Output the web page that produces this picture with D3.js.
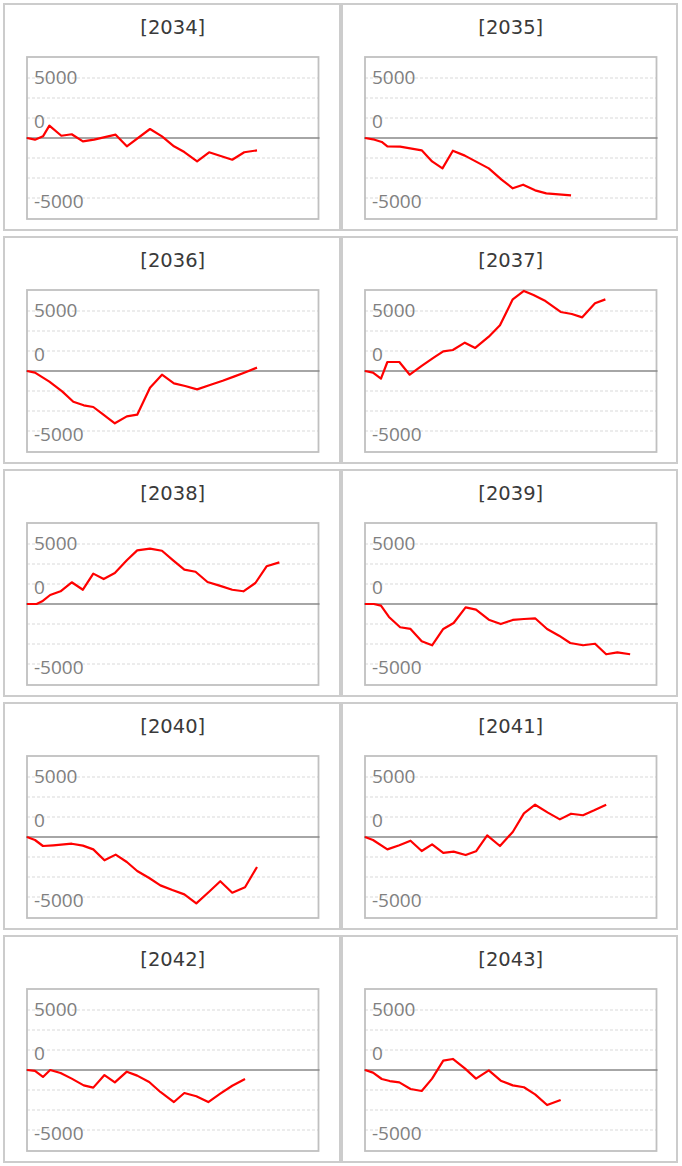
<!DOCTYPE html>
<html><head><meta charset="utf-8">
<script src="https://cdn.jsdelivr.net/npm/d3@7"></script>
<style>html,body{margin:0;padding:0;background:#fff}</style>
</head><body>
<svg id="chart" width="682" height="1166"></svg>
<script>
// ---- data: [day of period, cumulative value] ----
const panelTitles = ["[2034]","[2035]","[2036]","[2037]","[2038]","[2039]","[2040]","[2041]","[2042]","[2043]"];
const tickValues = [5000, 0, -5000];
const tickLabels = ["5000", "0", "-5000"];
const gridValues = [5000, 10000/3, 5000/3, -5000/3, -10000/3, -5000];
const xDomain = [0, 365];
const yDomain = [-6750, 6750];

const s2034 = [[0,0],[10,-140],[20,140],[28,1030],[43,190],[56,310],[70,-280],[84,-140],[111,280],[125,-690],[154,750],[169,140],[184,-690],[197,-1170],[213,-1950],[228,-1190],[257,-1810],[272,-1190],[288,-1030]];
const s2035 = [[0,0],[12,-140],[21,-330],[28,-690],[44,-720],[71,-1030],[84,-1950],[97,-2530],[110,-1060],[125,-1470],[155,-2530],[171,-3470],[185,-4190],[198,-3890],[213,-4360],[227,-4610],[258,-4780]];
const s2036 = [[0,0],[10,-140],[28,-890],[44,-1700],[58,-2560],[71,-2860],[83,-3000],[94,-3560],[110,-4360],[125,-3780],[138,-3640],[154,-1390],[169,-310],[184,-1030],[198,-1250],[213,-1530],[230,-1140],[245,-810],[259,-470],[272,-140],[288,280]];
const s2037 = [[0,0],[10,-140],[20,-640],[28,750],[43,750],[56,-310],[71,420],[86,1110],[98,1640],[110,1750],[125,2360],[138,1920],[155,2860],[169,3810],[185,5970],[199,6670],[211,6330],[226,5830],[245,4920],[259,4750],[272,4470],[288,5640],[301,5970]];
const s2038 = [[0,0],[12,0],[19,220],[29,750],[42,1060],[56,1810],[70,1190],[83,2530],[96,2080],[110,2580],[125,3640],[138,4470],[154,4610],[169,4440],[183,3640],[197,2860],[211,2690],[226,1830],[241,1530],[257,1190],[271,1060],[286,1750],[300,3140],[316,3470]];
const s2039 = [[0,0],[11,0],[20,-140],[30,-1080],[44,-1940],[57,-2080],[71,-3110],[84,-3440],[98,-2080],[111,-1580],[126,-280],[139,-470],[155,-1310],[170,-1670],[185,-1330],[199,-1250],[213,-1190],[228,-2080],[243,-2640],[257,-3250],[273,-3440],[288,-3310],[302,-4190],[316,-4030],[332,-4190]];
const s2040 = [[0,0],[10,-250],[20,-750],[33,-690],[56,-560],[70,-720],[83,-1030],[97,-1940],[111,-1470],[125,-2080],[138,-2830],[153,-3420],[167,-4030],[182,-4420],[197,-4780],[212,-5530],[228,-4560],[242,-3690],[257,-4640],[273,-4190],[288,-2500]];
const s2041 = [[0,0],[10,-250],[28,-1030],[43,-690],[57,-310],[71,-1170],[84,-610],[98,-1330],[111,-1220],[126,-1500],[139,-1190],[153,140],[169,-750],[185,420],[199,1970],[213,2690],[229,2030],[244,1470],[258,1940],[273,1810],[287,2220],[302,2690]];
const s2042 = [[0,0],[10,-80],[20,-580],[29,0],[42,-250],[56,-720],[71,-1280],[83,-1470],[97,-420],[110,-1030],[125,-140],[138,-470],[153,-1000],[167,-1830],[184,-2670],[197,-1920],[212,-2190],[227,-2670],[242,-1970],[257,-1310],[273,-750]];
const s2043 = [[0,0],[10,-220],[21,-750],[31,-920],[43,-1030],[57,-1580],[71,-1750],[84,-720],[98,780],[110,920],[125,140],[139,-720],[155,-30],[170,-890],[185,-1280],[199,-1440],[213,-2030],[228,-2920],[245,-2500]];
const seriesList = [s2034, s2035, s2036, s2037, s2038, s2039, s2040, s2041, s2042, s2043];

// ---- layout ----
const svg = d3.select("#chart");
const colX = [3, 341], colW = [338, 337];
const rowStep = 233, rowTop = 3, panelH = 228;
const boxL = 24, boxR = 315.5, boxT = 54, boxH = 162;

panelTitles.forEach((title, i) => {
  const c = i % 2, r = Math.floor(i / 2);
  const x0 = colX[c], y0 = rowTop + r * rowStep, w = colW[c];
  const g = svg.append("g").attr("transform", `translate(${x0},${y0})`);

  g.append("rect").attr("x", 1).attr("y", 1).attr("width", w - 2).attr("height", panelH - 2)
    .attr("fill", "#fff").attr("stroke", "#cccccc").attr("stroke-width", 2);

  const x = d3.scaleLinear().domain(xDomain).range([boxL, boxR]);
  const y = d3.scaleLinear().domain(yDomain).range([boxT + boxH, boxT]);

  g.append("text").attr("x", (boxL + boxR) / 2).attr("y", 30.5)
    .attr("text-anchor", "middle").attr("font-family", "DejaVu Sans, Verdana, sans-serif")
    .attr("font-size", 19.5).attr("fill", "#3a3a3a").text(title);

  // dashed gridlines
  g.selectAll("line.grid").data(gridValues).enter().append("line")
    .attr("x1", boxL).attr("x2", boxR)
    .attr("y1", d => y(d)).attr("y2", d => y(d))
    .attr("stroke", "#d9d9d9").attr("stroke-width", 1).attr("stroke-dasharray", "3,2");

  // plot frame
  g.append("rect").attr("x", boxL).attr("y", boxT).attr("width", boxR - boxL).attr("height", boxH)
    .attr("fill", "none").attr("stroke", "#c0c0c0").attr("stroke-width", 1.8);

  // tick labels
  g.selectAll("text.tick").data(tickValues).enter().append("text")
    .attr("x", boxL + 7)
    .attr("y", d => y(d) + (d === 0 ? -10 : d > 0 ? 6 : 9.5))
    .attr("font-family", "Open Sans, sans-serif").attr("font-size", 19)
    .attr("fill", "#808080")
    .text((d, k) => tickLabels[k]);

  // zero line
  g.append("line").attr("x1", boxL - 1).attr("x2", boxR + 1)
    .attr("y1", y(0)).attr("y2", y(0))
    .attr("stroke", "#888").attr("stroke-width", 1.6);

  // series
  const line = d3.line().x(d => x(d[0])).y(d => y(d[1]));
  g.append("path").datum(seriesList[i]).attr("d", line)
    .attr("fill", "none").attr("stroke", "#ff0000").attr("stroke-width", 2.2)
    .attr("stroke-linejoin", "round");
});
</script>
</body></html>
